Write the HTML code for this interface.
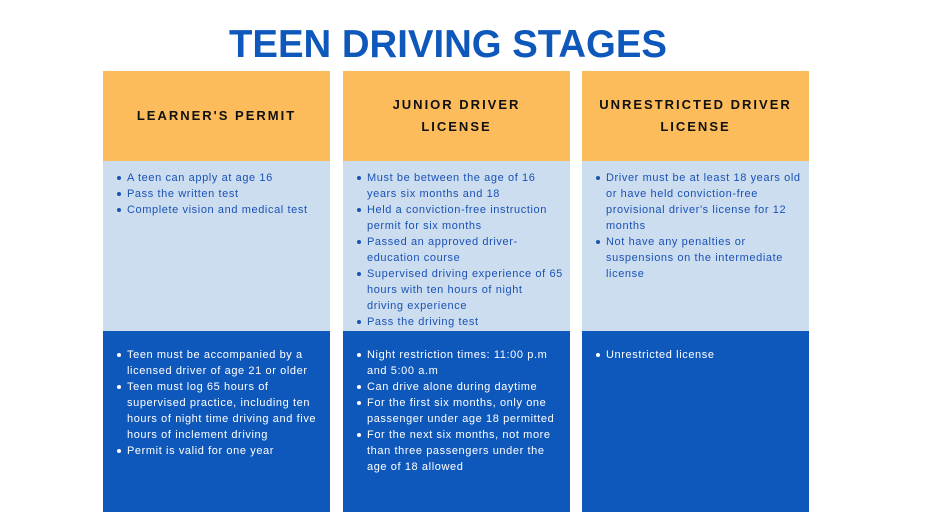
<!DOCTYPE html>
<html><head><meta charset="utf-8"><style>
*{margin:0;padding:0;box-sizing:border-box}
body{width:941px;height:530px;background:#fff;position:relative;overflow:hidden;font-family:"Liberation Sans",sans-serif}
.box{position:absolute;width:227px}
.hd{background:#FDBC5C;top:71px;height:90px;display:flex;align-items:center;justify-content:center;text-align:center;font-size:13px;font-weight:bold;letter-spacing:2px;line-height:22px;color:#111}
.lt{background:#CCDDF0;top:161px;height:170px}
.dk{background:#0F58BB;top:331px;height:181px}
ul{list-style:none;position:absolute;left:14px;font-size:11px;line-height:16px;white-space:nowrap;letter-spacing:0.6px}
li{position:relative;padding-left:10px}
li:before{content:"";position:absolute;left:0;top:6px;width:4px;height:4px;border-radius:50%;background:currentColor}
.lt ul{color:#1A52B5;top:9px}
.dk ul{color:#fff;top:16px}
</style></head><body>
<svg style="position:absolute;left:0;top:0" width="941" height="70"><text x="229" y="57" textLength="438" lengthAdjust="spacingAndGlyphs" font-family="Liberation Sans" font-weight="bold" font-size="39" fill="#0F58BB">TEEN DRIVING STAGES</text></svg>

<div class="box hd" style="left:103px">LEARNER'S PERMIT</div>
<div class="box hd" style="left:343px">JUNIOR DRIVER<br>LICENSE</div>
<div class="box hd" style="left:582px">UNRESTRICTED DRIVER<br>LICENSE</div>

<div class="box lt" style="left:103px"><ul>
<li>A teen can apply at age 16</li>
<li>Pass the written test</li>
<li>Complete vision and medical test</li></ul></div>
<div class="box lt" style="left:343px"><ul>
<li>Must be between the age of 16<br>years six months and 18</li>
<li>Held a conviction-free instruction<br>permit for six months</li>
<li>Passed an approved driver-<br>education course</li>
<li>Supervised driving experience of 65<br>hours with ten hours of night<br>driving experience</li>
<li>Pass the driving test</li></ul></div>
<div class="box lt" style="left:582px"><ul>
<li>Driver must be at least 18 years old<br>or have held conviction-free<br>provisional driver's license for 12<br>months</li>
<li>Not have any penalties or<br>suspensions on the intermediate<br>license</li></ul></div>

<div class="box dk" style="left:103px"><ul>
<li>Teen must be accompanied by a<br>licensed driver of age 21 or older</li>
<li>Teen must log 65 hours of<br>supervised practice, including ten<br>hours of night time driving and five<br>hours of inclement driving</li>
<li>Permit is valid for one year</li></ul></div>
<div class="box dk" style="left:343px"><ul>
<li>Night restriction times: 11:00 p.m<br>and 5:00 a.m</li>
<li>Can drive alone during daytime</li>
<li>For the first six months, only one<br>passenger under age 18 permitted</li>
<li>For the next six months, not more<br>than three passengers under the<br>age of 18 allowed</li></ul></div>
<div class="box dk" style="left:582px"><ul>
<li>Unrestricted license</li></ul></div>
</body></html>
